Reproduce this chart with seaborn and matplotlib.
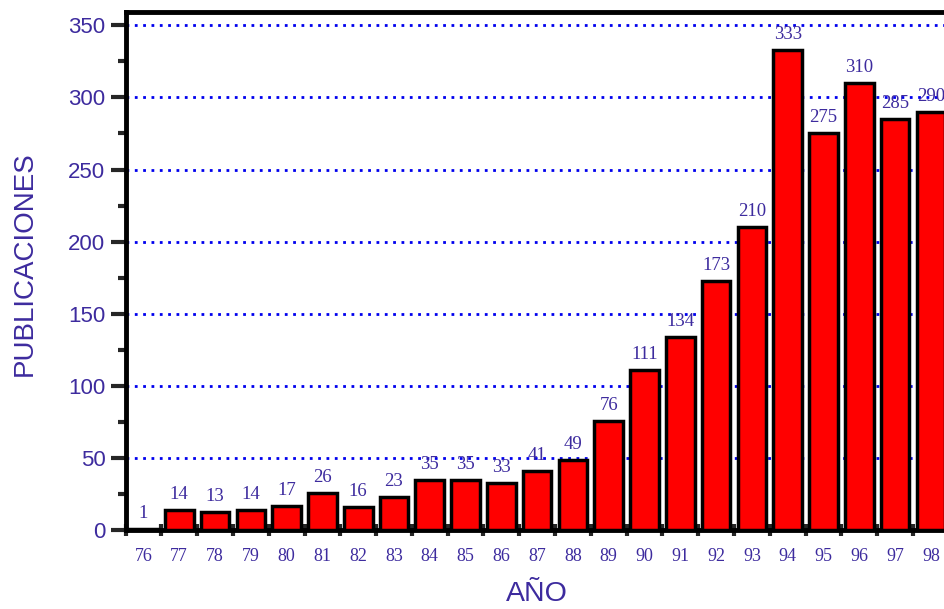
import matplotlib
matplotlib.use("Agg")
import matplotlib.pyplot as plt
import matplotlib.ticker as mticker
import seaborn as sns
import pandas as pd

years = ["76", "77", "78", "79", "80", "81", "82", "83", "84", "85", "86", "87",
         "88", "89", "90", "91", "92", "93", "94", "95", "96", "97", "98"]
publications = [1, 14, 13, 14, 17, 26, 16, 23, 35, 35, 33, 41,
                49, 76, 111, 134, 173, 210, 333, 275, 310, 285, 290]
y_ticks = [0, 50, 100, 150, 200, 250, 300, 350]

TEXT = "#3d2b9e"

sns.set_style("white")
plt.rcParams["font.family"] = ["Liberation Sans", "DejaVu Sans"]

df = pd.DataFrame({"year": years, "pubs": publications})

fig = plt.figure(figsize=(9.44, 6.09), dpi=100)
ax = fig.add_axes([0.133, 0.129, 0.872, 0.851])

sns.barplot(data=df, x="year", y="pubs", color="#ff0000", saturation=1,
            width=0.8, edgecolor="black", linewidth=2.5, ax=ax, zorder=3)

# value labels above bars
for container in ax.containers:
    ax.bar_label(container, labels=[str(v) for v in publications], padding=5,
                 fontsize=13.5, color=TEXT, family="Liberation Serif", zorder=4)

ax.set_xlim(-0.5, len(years) - 0.5)
ax.set_ylim(0, 359)

# dotted blue gridlines
for yv in y_ticks[1:]:
    ax.axhline(yv, color="#0000ee", linestyle=(0, (1, 2)), linewidth=2, zorder=1)

ax.set_yticks(y_ticks)
ax.yaxis.set_minor_locator(mticker.MultipleLocator(25))
ax.tick_params(axis="y", which="major", direction="out", length=11, width=3,
               labelsize=16, labelcolor=TEXT, left=True)
ax.tick_params(axis="y", which="minor", direction="out", length=6, width=3, left=True)

ax.xaxis.set_minor_locator(mticker.FixedLocator([i - 0.5 for i in range(len(years) + 1)]))
ax.tick_params(axis="x", which="major", length=0, pad=13, labelsize=13, labelcolor=TEXT)
ax.tick_params(axis="x", which="minor", direction="inout", length=9, width=3, bottom=True)
for lbl in ax.get_xticklabels():
    lbl.set_family("Liberation Serif")

for side in ["left", "bottom", "top"]:
    ax.spines[side].set_visible(True)
    ax.spines[side].set_color("black")
    ax.spines[side].set_linewidth(3.5)
ax.spines["right"].set_visible(False)

ax.set_xlabel("AÑO", fontsize=20.5, color=TEXT)
ax.set_ylabel("PUBLICACIONES", fontsize=20, color=TEXT)
ax.xaxis.set_label_coords(0.5, -0.098)
ax.yaxis.set_label_coords(-0.107, 0.514)

fig.savefig("out.png", dpi=100)
